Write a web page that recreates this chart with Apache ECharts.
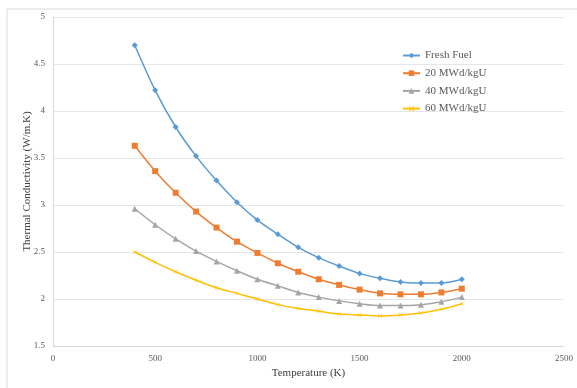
<!DOCTYPE html>
<html>
<head>
<meta charset="utf-8">
<script src="https://cdn.jsdelivr.net/npm/echarts@6/dist/echarts.min.js"></script>
<style>
  html, body { margin: 0; padding: 0; background: #fff; }
  #chart { width: 577px; height: 388px; }
</style>
</head>
<body>
<div id="chart"></div>
<script>
var temps = [400, 500, 600, 700, 800, 900, 1000, 1100, 1200, 1300, 1400, 1500, 1600, 1700, 1800, 1900, 2000];
var freshFuel = [4.70, 4.22, 3.83, 3.52, 3.26, 3.03, 2.84, 2.69, 2.55, 2.44, 2.35, 2.27, 2.22, 2.18, 2.17, 2.17, 2.21];
var bu20 = [3.63, 3.36, 3.13, 2.93, 2.76, 2.61, 2.49, 2.38, 2.29, 2.21, 2.15, 2.10, 2.06, 2.05, 2.05, 2.07, 2.11];
var bu40 = [2.96, 2.79, 2.64, 2.51, 2.40, 2.30, 2.21, 2.14, 2.07, 2.02, 1.98, 1.95, 1.93, 1.93, 1.94, 1.97, 2.02];
var bu60 = [2.50, 2.39, 2.29, 2.20, 2.12, 2.06, 2.00, 1.94, 1.90, 1.87, 1.84, 1.83, 1.82, 1.83, 1.85, 1.89, 1.95];
var seriesNames = ['Fresh Fuel', '20 MWd/kgU', '40 MWd/kgU', '60 MWd/kgU'];

function pairs(ys) {
    return temps.map(function (t, i) { return [t, ys[i]]; });
}

var font = 'Liberation Serif, Times New Roman, serif';
var crossPath = 'path://M0,1 L1,0 L5,4 L9,0 L10,1 L6,5 L10,9 L9,10 L5,6 L1,10 L0,9 L4,5 Z';

var myChart = echarts.init(document.getElementById('chart'));
var option = {
    animation: false,
    color: ['#5B9BD5', '#ED7D31', '#A5A5A5', '#FFC000'],
    graphic: [{
        type: 'rect',
        shape: { x: 7, y: 9, width: 580, height: 390 },
        style: { fill: 'none', stroke: '#d9d9d9', lineWidth: 1 },
        silent: true
    }],
    grid: { left: 53, right: 13, top: 17, bottom: 42 },
    legend: {
        orient: 'vertical',
        left: 397,
        top: 45,
        itemGap: 6.7,
        itemWidth: 17,
        itemHeight: 7,
        textStyle: { fontFamily: font, fontSize: 11, color: '#595959' },
        data: seriesNames
    },
    xAxis: {
        type: 'value',
        min: 0,
        max: 2500,
        interval: 500,
        name: 'Temperature (K)',
        nameLocation: 'middle',
        nameGap: 21,
        nameTextStyle: { fontFamily: font, fontSize: 11, color: '#404040' },
        axisLine: { lineStyle: { color: '#d9d9d9' } },
        axisTick: { show: false },
        axisLabel: { fontFamily: font, fontSize: 9, color: '#595959', margin: 8,
                     formatter: function (v) { return String(v); } },
        splitLine: { show: false }
    },
    yAxis: {
        type: 'value',
        min: 1.5,
        max: 5,
        interval: 0.5,
        name: 'Thermal Conductivity (W/m.K)',
        nameLocation: 'middle',
        nameGap: 20,
        nameMoveOverlap: false,
        nameTextStyle: { fontFamily: font, fontSize: 11, color: '#404040' },
        axisLine: { show: true, lineStyle: { color: '#d9d9d9' } },
        axisTick: { show: false },
        axisLabel: { fontFamily: font, fontSize: 9, color: '#595959', margin: 8 },
        splitLine: { lineStyle: { color: '#e6e6e6' } }
    },
    series: [
        { name: seriesNames[0], type: 'line', smooth: 0.3, data: pairs(freshFuel),
          symbol: 'diamond', symbolSize: 6, lineStyle: { width: 1.5 } },
        { name: seriesNames[1], type: 'line', smooth: 0.3, data: pairs(bu20),
          symbol: 'rect', symbolSize: 6, lineStyle: { width: 1.5 } },
        { name: seriesNames[2], type: 'line', smooth: 0.3, data: pairs(bu40),
          symbol: 'triangle', symbolSize: 6, lineStyle: { width: 1.5 } },
        { name: seriesNames[3], type: 'line', smooth: 0.3, data: pairs(bu60),
          symbol: crossPath, symbolSize: 4, lineStyle: { width: 1.5 } }
    ]
};
myChart.setOption(option);
</script>
</body>
</html>
